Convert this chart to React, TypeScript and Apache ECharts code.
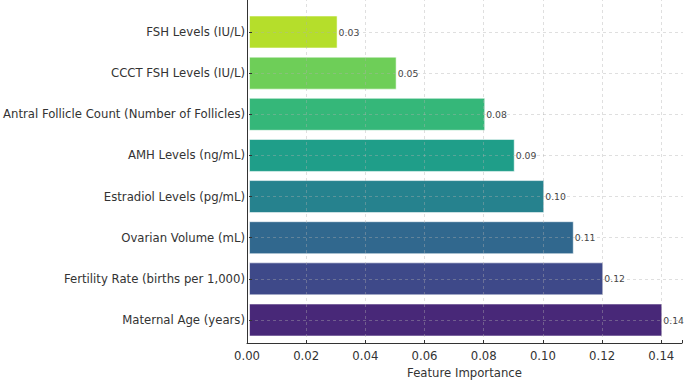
import React, { useEffect, useRef } from 'react';
import * as echarts from 'echarts';

// bottom -> top order
const categories = [
  'Maternal Age (years)',
  'Fertility Rate (births per 1,000)',
  'Ovarian Volume (mL)',
  'Estradiol Levels (pg/mL)',
  'AMH Levels (ng/mL)',
  'Antral Follicle Count (Number of Follicles)',
  'CCCT FSH Levels (IU/L)',
  'FSH Levels (IU/L)',
];
const importance = [0.14, 0.12, 0.11, 0.1, 0.09, 0.08, 0.05, 0.03];
const barColors = ['#482878', '#3e4989', '#31688e', '#26828e', '#1f9e89', '#35b779', '#6ece58', '#b5de2b'];
const xTicks = [0, 0.02, 0.04, 0.06, 0.08, 0.1, 0.12, 0.14];
const xMax = 0.147;

const FONT = 'DejaVu Sans';
const TEXT = '#333333';
const GRIDLINE = 'rgba(176,176,176,0.5)';

export default function App() {
  const ref = useRef<HTMLDivElement>(null);
  useEffect(() => {
    if (!ref.current) return;
    const chart = echarts.init(ref.current, undefined, { renderer: 'svg' });
    const option: any = {
      animation: false,
      backgroundColor: '#ffffff',
      grid: [
        { left: 247, right: 2, top: 32, height: 288, containLabel: false },
        { left: 247, right: 2, top: 0, height: 352, containLabel: false },
      ],
      xAxis: [
        { type: 'value', gridIndex: 0, min: 0, max: xMax, show: false },
        {
          type: 'value',
          gridIndex: 1,
          min: 0,
          max: xMax,
          interval: 0.02,
          z: 6,
          axisLine: { show: true, lineStyle: { color: TEXT, width: 1 } },
          axisTick: { show: true, inside: true, length: 3, lineStyle: { color: TEXT } },
          splitLine: { show: false },
          axisLabel: {
            margin: 7,
            fontSize: 11.7,
            fontFamily: FONT,
            color: TEXT,
            formatter: (v: number) => (xTicks.some((t) => Math.abs(t - v) < 1e-9) ? v.toFixed(2) : ''),
          },
          name: 'Feature Importance',
          nameLocation: 'middle',
          nameGap: 24,
          nameTextStyle: { fontSize: 11.7, fontFamily: FONT, color: TEXT },
        },
      ],
      yAxis: [
        {
          type: 'category',
          gridIndex: 0,
          data: categories,
          boundaryGap: false,
          z: 6,
          axisLine: { show: false },
          axisTick: { show: true, inside: true, length: 3, lineStyle: { color: TEXT } },
          axisLabel: { margin: 4, fontSize: 11.7, fontFamily: FONT, color: TEXT },
          splitLine: { show: true, lineStyle: { color: GRIDLINE, type: [3, 3], width: 0.8 } },
        },
        {
          type: 'value',
          gridIndex: 1,
          min: 0,
          max: 1,
          z: 6,
          axisLine: { show: true, lineStyle: { color: TEXT, width: 1 } },
          axisTick: { show: false },
          axisLabel: { show: false },
          splitLine: { show: false },
        },
      ],
      series: [
        {
          type: 'bar',
          xAxisIndex: 0,
          yAxisIndex: 0,
          barWidth: 33,
          clip: false,
          z: 2,
          data: importance.map((v, i) => ({
            value: v,
            itemStyle: { color: barColors[i], borderColor: 'rgba(255,255,255,0.55)', borderWidth: 1 },
          })),
          label: {
            show: true,
            position: 'right',
            distance: 1,
            fontSize: 9.3,
            fontFamily: FONT,
            color: '#444444',
            formatter: (p: any) => Number(p.value).toFixed(2),
          },
        },
        {
          type: 'scatter',
          xAxisIndex: 1,
          yAxisIndex: 1,
          data: [],
          z: 5,
          silent: true,
          markLine: {
            silent: true,
            symbol: 'none',
            label: { show: false },
            lineStyle: { color: GRIDLINE, type: [3, 3], width: 0.8 },
            data: xTicks.filter((t) => t > 0).map((t) => ({ xAxis: t })),
          },
        },
      ],
    };
    chart.setOption(option);
    return () => chart.dispose();
  }, []);
  return <div ref={ref} style={{ position: 'fixed', left: 0, top: 0, width: 685, height: 384 }} />;
}
